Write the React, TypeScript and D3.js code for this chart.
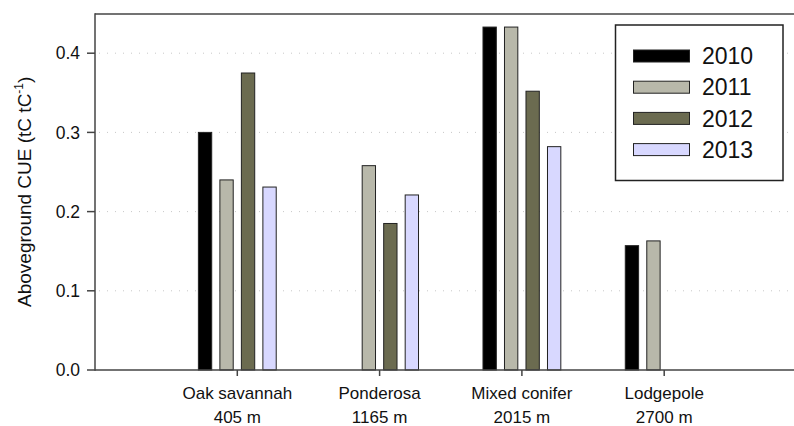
import React from "react";
import * as d3 from "d3";

const categories = ["Oak savannah", "Ponderosa", "Mixed conifer", "Lodgepole"];
const elevations = ["405 m", "1165 m", "2015 m", "2700 m"];
const years = ["2010", "2011", "2012", "2013"];
const values2010: (number | null)[] = [0.3, null, 0.433, 0.157];
const values2011: (number | null)[] = [0.24, 0.258, 0.433, 0.163];
const values2012: (number | null)[] = [0.375, 0.185, 0.352, null];
const values2013: (number | null)[] = [0.231, 0.221, 0.282, null];
const yTicks = [0.0, 0.1, 0.2, 0.3, 0.4];
const gridTicks = [0.1, 0.2, 0.3, 0.4];

const seriesValues = [values2010, values2011, values2012, values2013];
const colors = ["#000000", "#b8b8aa", "#6b6b50", "#d8d8ff"];

const W = 794;
const H = 426;
const left = 95;
const top = 13.6;
const bottom = 370;
const rightEdge = 794;

export default function App() {
  const y = d3.scaleLinear().domain([0, 0.45]).range([bottom, top]);
  const x = d3.scaleLinear().domain([0, 5]).range([left, left + 5 * 142.3]);
  const inner = d3
    .scaleBand<string>()
    .domain(years)
    .range([-43, 43])
    .paddingInner(0.38)
    .paddingOuter(0.19);
  const font = "'Liberation Sans', Arial, sans-serif";

  return (
    <svg
      width={W}
      height={H}
      style={{ position: "absolute", left: 0, top: 0, background: "#fff" }}
      fontFamily={font}
    >
      <rect x={0} y={0} width={W} height={H} fill="#fff" />
      {/* grid */}
      {gridTicks.map((t) => (
        <line
          key={"g" + t}
          x1={left + 4}
          x2={rightEdge}
          y1={y(t)}
          y2={y(t)}
          stroke="#c8c8c8"
          strokeWidth={1}
          strokeDasharray="1,7"
        />
      ))}
      {/* bars */}
      {seriesValues.map((vals, j) =>
        vals.map((v, i) =>
          v == null ? null : (
            <rect
              key={`b${j}-${i}`}
              x={x(i + 1) + (inner(years[j]) as number)}
              y={y(v)}
              width={inner.bandwidth()}
              height={y(0) - y(v)}
              fill={colors[j]}
              stroke="#222"
              strokeWidth={1}
            />
          )
        )
      )}
      {/* frame */}
      <line x1={left} x2={rightEdge} y1={top + 0.4} y2={top + 0.4} stroke="#444" strokeWidth={1.5} />
      <line x1={left} x2={rightEdge} y1={bottom} y2={bottom} stroke="#444" strokeWidth={1.5} />
      <line x1={left} x2={left} y1={top - 0.4} y2={bottom + 0.7} stroke="#444" strokeWidth={1.5} />
      {/* y ticks */}
      {yTicks.map((t) => (
        <g key={"yt" + t}>
          <line x1={left - 8} x2={left} y1={y(t)} y2={y(t)} stroke="#444" strokeWidth={1.5} />
          <text
            x={left - 15}
            y={y(t)}
            dy="0.35em"
            textAnchor="end"
            fontSize={17.5}
            fill="#111"
          >
            {d3.format(".1f")(t)}
          </text>
        </g>
      ))}
      {/* x ticks and labels */}
      {categories.map((c, i) => (
        <g key={"xt" + c}>
          <line x1={x(i + 1)} x2={x(i + 1)} y1={bottom} y2={bottom + 6} stroke="#444" strokeWidth={1.5} />
          <text x={x(i + 1)} y={399} textAnchor="middle" fontSize={17} fill="#111">
            {c}
          </text>
          <text x={x(i + 1)} y={423} textAnchor="middle" fontSize={17} fill="#111">
            {elevations[i]}
          </text>
        </g>
      ))}
      {/* y label */}
      <text
        transform={`translate(31,${(top + bottom) / 2}) rotate(-90)`}
        textAnchor="middle"
        fontSize={19}
        fill="#111"
      >
        Aboveground CUE (tC tC
        <tspan fontSize={12} dy={-8}>
          -1
        </tspan>
        <tspan dy={8}>)</tspan>
      </text>
      {/* legend */}
      <rect x={615.5} y={25} width={167.5} height={155.5} fill="#fff" stroke="#222" strokeWidth={1.5} />
      {years.map((yr, j) => {
        const cy = 56 + j * 31.2;
        return (
          <g key={"lg" + yr}>
            <rect
              x={633.5}
              y={cy - 6}
              width={56}
              height={12}
              fill={colors[j]}
              stroke="#222"
              strokeWidth={1}
            />
            <text x={702} y={cy} dy="0.36em" fontSize={23} fill="#111">
              {yr}
            </text>
          </g>
        );
      })}
    </svg>
  );
}
